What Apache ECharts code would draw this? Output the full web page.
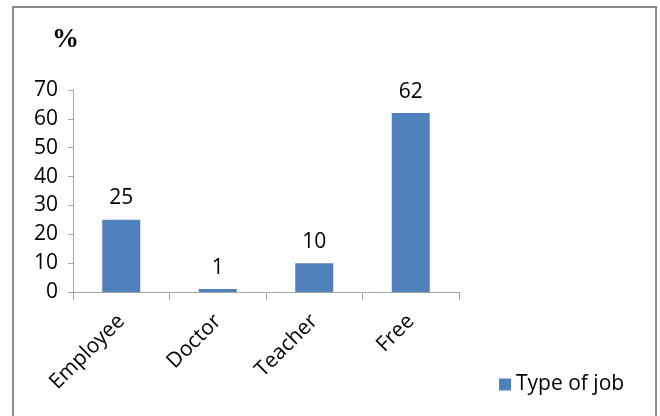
<!DOCTYPE html>
<html>
<head>
<meta charset="utf-8">
<script src="https://cdn.jsdelivr.net/npm/echarts@6/dist/echarts.min.js"></script>
<style>
  html, body { margin: 0; padding: 0; background: #fff; }
  #chart { width: 660px; height: 416px; }
</style>
</head>
<body>
<div id="chart"></div>
<script>
// Share of respondents by type of job (%)
const categories = ['Employee', 'Doctor', 'Teacher', 'Free'];
const values = [25, 1, 10, 62];
const seriesName = 'Type of job';
const yTicks = [0, 10, 20, 30, 40, 50, 60, 70];

const font = '"Open Sans", "DejaVu Sans", sans-serif';
const fontSize = 21;
const barColor = '#4F81BD';
const axisColor = '#A6A6A6';

const chart = echarts.init(document.getElementById('chart'), null, { renderer: 'canvas' });

chart.setOption({
  animation: false,
  backgroundColor: '#fff',
  grid: { left: 73, right: 201, top: 90, bottom: 124, containLabel: false },
  graphic: [
    {
      type: 'rect',
      shape: { x: 13, y: 7, width: 643, height: 430 },
      style: { fill: 'none', stroke: '#8C8C8C', lineWidth: 2 },
      silent: true
    },
    {
      type: 'text',
      left: 52,
      top: 27,
      style: { text: '%', font: 'bold 27px "Liberation Serif", "DejaVu Serif", serif', fill: '#000' }
    }
  ],
  legend: {
    data: [seriesName],
    left: 494,
    top: 369,
    itemWidth: 12,
    itemHeight: 12,
    itemGap: 6,
    icon: 'rect',
    textStyle: { fontFamily: font, fontSize: fontSize, color: '#000' }
  },
  xAxis: {
    type: 'category',
    data: categories,
    axisLine: { lineStyle: { color: axisColor, width: 1 } },
    axisTick: { show: true, length: 8, alignWithLabel: false, lineStyle: { color: axisColor } },
    axisLabel: {
      rotate: 45,
      margin: 26,
      interval: 0,
      fontFamily: font,
      fontSize: fontSize,
      color: '#000'
    }
  },
  yAxis: {
    type: 'value',
    min: yTicks[0],
    max: yTicks[yTicks.length - 1],
    interval: 10,
    splitLine: { show: false },
    axisLine: { show: true, lineStyle: { color: axisColor, width: 1 } },
    axisTick: { show: true, length: 5, lineStyle: { color: axisColor } },
    axisLabel: {
      margin: 15,
      fontFamily: font,
      fontSize: fontSize,
      color: '#000'
    }
  },
  series: [
    {
      name: seriesName,
      type: 'bar',
      data: values,
      barWidth: 38,
      itemStyle: { color: barColor },
      label: {
        show: true,
        position: 'top',
        distance: 11,
        fontFamily: font,
        fontSize: fontSize,
        color: '#000'
      }
    }
  ]
});
</script>
</body>
</html>
